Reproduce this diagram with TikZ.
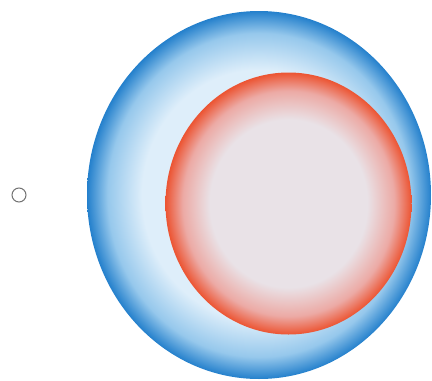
\documentclass[tikz,border=0pt]{standalone}
\usetikzlibrary{shapes.geometric}
\definecolor{cellrim}{RGB}{36,128,204}
\definecolor{cellmid}{RGB}{150,200,236}
\definecolor{cellcore}{RGB}{222,238,250}
\definecolor{nucrim}{RGB}{236,84,50}
\definecolor{nucmid}{RGB}{236,170,165}
\definecolor{nuccore}{RGB}{233,226,231}
\pgfdeclareradialshading{cellshade}{\pgfpoint{0bp}{0bp}}{color(0bp)=(cellcore); color(17bp)=(cellcore); color(22bp)=(cellmid); color(25bp)=(cellrim); color(50bp)=(cellrim)}
\pgfdeclareradialshading{nucshade}{\pgfpoint{0bp}{0bp}}{color(0bp)=(nuccore); color(16bp)=(nuccore); color(21.5bp)=(nucmid); color(25bp)=(nucrim); color(50bp)=(nucrim)}
\begin{document}
\begin{tikzpicture}[
    x=1pt, y=-1pt,
    every node/.style={ellipse, inner sep=0pt},
    cell/.style={shading=cellshade, minimum width=344pt, minimum height=368pt},
    nucleus/.style={shading=nucshade, minimum width=246pt, minimum height=262pt},
    dot/.style={draw=black!55, line width=1pt, fill=white, minimum size=14pt}
]
    \useasboundingbox (0,0) rectangle (432,381);
    % cell body and nucleus
    \node [cell] (cell) at (259,195) {};
    \node [nucleus] (nucleus) at (288.5,203.5) {};
    % small particle on the left
    \node [dot] (particle) at (19,195) {};
\end{tikzpicture}
\end{document}
